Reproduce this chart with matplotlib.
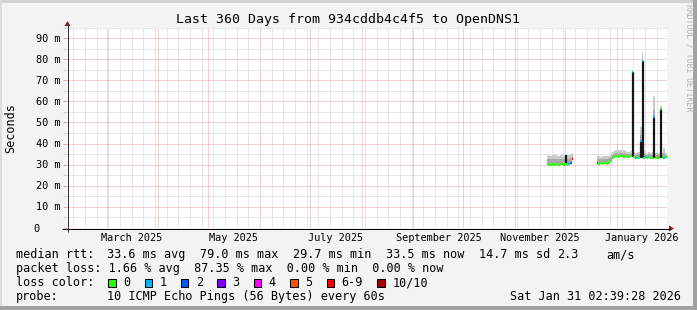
"""
Smokeping style latency graph: Last 360 Days from 934cddb4c4f5 to OpenDNS1
"""
import matplotlib; matplotlib.use('Agg')
import matplotlib.pyplot as plt
import matplotlib.dates as mdates
import matplotlib.transforms as mtransforms
from matplotlib.patches import Rectangle, Polygon
from matplotlib.ticker import MultipleLocator
import numpy as np
import pandas as pd

plt.rcParams['font.family'] = ['DejaVu Sans Mono']

W, H, DPI = 697, 310, 100

# ---- data (ms) ----
t_end = pd.Timestamp('2026-01-31 02:39:28')
t_start = t_end - pd.Timedelta(days=360)

# segment 1: Nov 20 .. Dec 5 2025 (daily)
seg1_start = '2025-11-20'
seg1_median = [30.1, 29.8, 30.0, 30.3, 29.9, 30.2, 29.8, 30.0, 30.4, 30.1, 29.9,
               30.2, 30.0, 30.3, 30.6, 32.8]
seg1_upper = [32.6, 32.8, 32.5, 32.9, 32.7, 32.8, 32.6, 32.5, 32.9, 32.7, 32.6,
              32.8, 32.9, 32.7, 33.4, 34.0]
seg1_max = [34.3, 34.5, 34.2, 34.6, 34.4, 34.5, 34.3, 34.2, 34.6, 34.4, 34.3,
            34.5, 34.6, 34.4, 35.2, 35.5]
seg1_loss = [0, 0, 0, 0, 0, 0, 0, 0, 0, 0, 0, 0, 0, 1, 2, 6]

# segment 2: Dec 20 2025 .. Jan 30 2026 (daily)
seg2_start = '2025-12-20'
seg2_median = [30.6, 30.4, 30.7, 30.5, 30.8, 30.6, 30.5, 30.9,
               31.8, 33.0, 33.6, 33.9,
               34.0, 33.8, 34.1, 33.9, 33.7, 34.0, 33.8, 33.6, 33.9, 73.7,
               33.5, 33.2, 33.6, 33.4, 41.0, 79.0, 33.3, 33.5, 33.1, 33.6,
               33.2, 33.4, 52.7, 33.3, 33.6, 33.2, 56.2, 33.5, 33.2, 33.5]
seg2_upper = [32.6, 32.8, 32.5, 32.7, 32.9, 32.6, 32.8, 33.0,
              33.8, 34.8, 35.2, 35.6,
              35.8, 35.5, 35.7, 35.4, 35.6, 35.2, 35.0, 34.9, 35.1, 74.0,
              34.8, 34.5, 34.9, 35.0, 44.0, 80.0, 35.0, 34.7, 34.4, 34.9,
              34.6, 34.9, 56.0, 34.6, 34.9, 34.5, 57.0, 34.8, 35.5, 34.8]
seg2_max = [33.9, 34.1, 33.8, 34.0, 34.2, 33.9, 34.1, 34.3,
            35.0, 36.0, 36.5, 37.0,
            37.2, 36.8, 37.0, 36.6, 36.9, 36.4, 36.2, 36.0, 36.3, 74.5,
            36.0, 35.5, 35.8, 36.2, 48.0, 83.5, 36.5, 35.6, 35.2, 35.8,
            35.4, 36.0, 62.5, 35.5, 35.9, 35.3, 58.0, 35.6, 37.8, 35.5]
seg2_loss = [2, 0, 0, 0, 0, 0, 0, 0,
             0, 0, 0, 0,
             0, 0, 0, 0, 0, 0, 0, 0, 0, 1,
             0, 1, 0, 0, 1, 1, 0, 1, 0, 0,
             0, 0, 1, 0, 1, 0, 0, 0, 1, 0]

# dark smoke spikes
spike_dates = ['2025-12-01', '2026-01-10', '2026-01-15', '2026-01-16', '2026-01-23', '2026-01-27']
spike_bases = [30.0, 33.5, 33.4, 33.3, 33.4, 33.2]
spike_tops = [34.4, 73.7, 41.0, 79.0, 52.7, 56.2]

loss_labels = ['0', '1', '2', '3', '4', '5', '6-9', '10/10']
loss_colors = ['#26ff00', '#00b8ff', '#0059ff', '#7e00ff', '#ff00ff', '#ff5500', '#ff0000', '#a10000']

ytick_values = [0, 10, 20, 30, 40, 50, 60, 70, 80, 90]
month_labels = ['March 2025', 'May 2025', 'July 2025', 'September 2025', 'November 2025', 'January 2026']
month_label_dates = ['2025-03-16', '2025-05-16', '2025-07-16', '2025-09-16', '2025-11-16', '2026-01-16']

title = 'Last 360 Days from 934cddb4c4f5 to OpenDNS1'
median_stats = ['median rtt:', '33.6 ms avg', '79.0 ms max', '29.7 ms min', '33.5 ms now',
                '14.7 ms sd', '2.3', 'am/s']
median_stats_x = [16, 107.3, 200, 292.7, 386, 479.3, 556.7, 606.7]
loss_line = 'packet loss: 1.66 % avg  87.35 % max  0.00 % min  0.00 % now'
probe_text = '10 ICMP Echo Pings (56 Bytes) every 60s'
stamp_text = 'Sat Jan 31 02:39:28 2026'

# ---- figure ----
fig = plt.figure(figsize=(W / DPI, H / DPI), dpi=DPI, facecolor='#f3f3f3')
ax = fig.add_axes([67 / W, (H - 228) / H, 600 / W, 200.5 / H])
ax.set_facecolor('white')
ax.set_xlim(t_start, t_end)
ax.set_ylim(0, 95)


def draw_segment(start, med, upper, mx, loss):
    edges = mdates.date2num(pd.date_range(start, periods=len(med) + 1, freq='D'))
    med = np.asarray(med)
    lo = med - 0.4
    ax.fill_between(edges, np.append(lo, lo[-1]), np.append(mx, mx[-1]),
                    step='post', color='#cbcbcb', lw=0, zorder=2)
    ax.fill_between(edges, np.append(lo, lo[-1]), np.append(upper, upper[-1]),
                    step='post', color='#a9a9a9', lw=0, zorder=3)
    return edges


e1 = draw_segment(seg1_start, seg1_median, seg1_upper, seg1_max, seg1_loss)
e2 = draw_segment(seg2_start, seg2_median, seg2_upper, seg2_max, seg2_loss)

sx = mdates.date2num(pd.to_datetime(spike_dates)) + 0.5
ax.vlines(sx, spike_bases, spike_tops, color='#161616', lw=1.6, zorder=4)

for edges, med, loss in [(e1, seg1_median, seg1_loss), (e2, seg2_median, seg2_loss)]:
    ax.hlines(med, edges[:-1], edges[1:], colors=[loss_colors[i] for i in loss],
              lw=1.6, zorder=5)

# grid
ax.xaxis.set_major_locator(mdates.MonthLocator())
ax.xaxis.set_minor_locator(mdates.WeekdayLocator(byweekday=mdates.SU))
ax.yaxis.set_major_locator(MultipleLocator(10))
ax.yaxis.set_minor_locator(MultipleLocator(5))
ax.grid(which='minor', color='#cfcfcf', ls=(0, (1, 1)), lw=0.72)
ax.grid(which='major', color='#e8a4a4', ls=(0, (1, 1)), lw=0.72)
ax.set_axisbelow(True)
ax.tick_params(axis='x', which='both', length=0, labelbottom=False)
ax.tick_params(axis='y', which='major', length=3, width=0.72, color='#e8a4a4', labelleft=False)
ax.tick_params(axis='y', which='minor', length=3, width=0.72, color='#cfcfcf')
for s in ax.spines.values():
    s.set_visible(False)

# ---- overlay in pixel coordinates ----
ov = fig.add_axes([0, 0, 1, 1], zorder=10)
ov.set_xlim(0, W)
ov.set_ylim(H, 0)
ov.axis('off')
ov.patch.set_alpha(0)

# frame
ov.add_patch(Rectangle((0, 0), W, 2.5, color='#d2d2d2', lw=0))
ov.add_patch(Rectangle((0, 0), 2.2, H, color='#dcdcdc', lw=0))
ov.add_patch(Rectangle((0, H - 3.8), W, 3.8, color='#a2a2a2', lw=0))
ov.add_patch(Rectangle((W - 3.6, 0), 3.6, H, color='#a2a2a2', lw=0))

# axes lines + arrows
ov.plot([62, 670], [228.5, 228.5], color='black', lw=0.75, solid_capstyle='butt')
ov.plot([67.5, 67.5], [232, 25], color='#333333', lw=0.75, solid_capstyle='butt')
ov.add_patch(Polygon([(669, 225.5), (674, 228.5), (669, 231.5)], color='#8e1c1c', lw=0))
ov.add_patch(Polygon([(64.5, 26), (67.5, 21), (70.5, 26)], color='#8e1c1c', lw=0))

# texts
ov.text(348, 22.5, title, ha='center', va='baseline', fontsize=9.5, color='black')
ov.text(11, 128, 'Seconds', rotation=90, ha='center', va='center', fontsize=8.5)
ov.text(688.5, 4, 'RRDTOOL / TOBI OETIKER', rotation=270, ha='center', va='top',
        fontsize=5.9, color='#b4b4b4')

ytrans = mtransforms.offset_copy(
    mtransforms.blended_transform_factory(ov.transData, ax.transData),
    fig=fig, y=-3.5, units='dots')
for v in ytick_values:
    if v == 0:
        ov.text(39.5, v, '0', transform=ytrans, ha='right', va='baseline', fontsize=7.4)
    else:
        ov.text(61, v, f'{v} m', transform=ytrans, ha='right', va='baseline', fontsize=7.4)

xtrans = mtransforms.blended_transform_factory(ax.transData, ov.transData)
for lab, d in zip(month_labels, month_label_dates):
    ov.text(mdates.date2num(pd.Timestamp(d)), 241, lab, transform=xtrans,
            ha='center', va='baseline', fontsize=7.4)

# legend block
fs = 8.5
for txt, x in zip(median_stats, median_stats_x):
    ov.text(x, 258.3, txt, ha='left', va='baseline', fontsize=fs)
ov.text(16, 272.3, loss_line, ha='left', va='baseline', fontsize=fs)
ov.text(16, 286.3, 'loss color:', ha='left', va='baseline', fontsize=fs)
cx = 108.3
for lab, col in zip(loss_labels, loss_colors):
    ov.add_patch(Rectangle((cx, 278.5), 7.4, 8.2, facecolor=col, edgecolor='black', lw=0.75))
    ov.text(cx + 15, 286.3, lab, ha='left', va='baseline', fontsize=fs)
    cx += 15 + (len(lab) + 2) * 7.13
ov.text(16, 300.3, 'probe:', ha='left', va='baseline', fontsize=fs)
ov.text(107.3, 300.3, probe_text, ha='left', va='baseline', fontsize=fs)
ov.text(681, 300.3, stamp_text, ha='right', va='baseline', fontsize=fs)

fig.savefig('out.png', dpi=DPI, facecolor=fig.get_facecolor())
